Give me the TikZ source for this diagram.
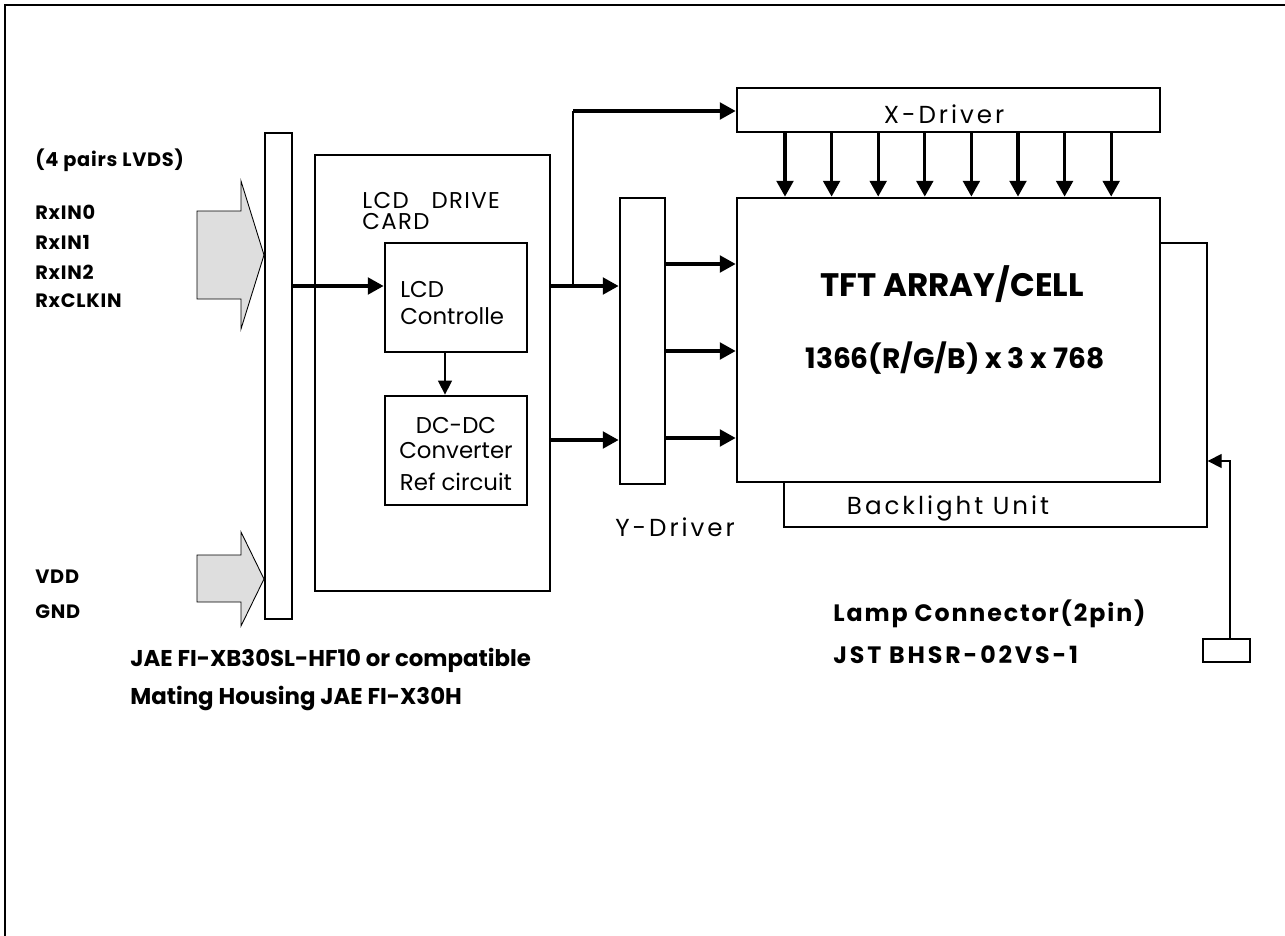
\documentclass[tikz,border=0pt]{standalone}
\usepackage{fontspec}
\setmainfont{Poppins}
\usetikzlibrary{arrows.meta}
\tikzset{
  box/.style={draw, line width=1.6pt, fill=white, inner sep=0pt},
  thinbox/.style={draw, line width=0.8pt, fill=white, inner sep=0pt},
  sig/.style={line width=1.8pt, -{Triangle[length=9pt,width=9.5pt]}},
  thinsig/.style={line width=0.8pt, -{Triangle[length=8pt,width=8pt]}},
  fat/.style={draw, line width=0.5pt, fill=black!13},
  pin/.style={font=\bfseries\fontsize{11}{13}\selectfont\addfontfeatures{LetterSpace=4}, anchor=west, inner sep=0pt},
  note/.style={font=\bfseries\fontsize{13}{15}\selectfont, anchor=west, inner sep=0pt},
  plain/.style={font=\fontsize{13}{13}\selectfont, inner sep=0pt, align=left},
  wide/.style={font=\fontsize{14}{14}\selectfont\addfontfeatures{LetterSpace=12}, inner sep=0pt}
}
\begin{document}
\begin{tikzpicture}[x=0.02cm, y=-0.02cm]
  \useasboundingbox (0,0) rectangle (1285,936);
  % frame (only top and left edges show)
  \draw[line width=1.3pt] (5,936) -- (5,5) -- (1285,5);

  % input connector and block arrows
  \node[thinbox, minimum width=0.54cm, minimum height=9.72cm] (conn) at (278.5,376) {};
  \filldraw[fat] (197,211) -- (241,211) -- (241,181) -- (264,255) -- (241,329)
    -- (241,299) -- (197,299) -- cycle;
  \filldraw[fat] (197,555) -- (241,555) -- (241,532) -- (264,579) -- (241,626)
    -- (241,602) -- (197,602) -- cycle;
  \node[pin] (lvds) at (35,160) {(4 pairs LVDS)};
  \node[pin] (rx0) at (35,212) {RxIN0};
  \node[pin] (rx1) at (35,242) {RxIN1};
  \node[pin] (rx2) at (35,272) {RxIN2};
  \node[pin] (rxclk) at (35,301) {RxCLKIN};
  \node[pin] (vdd) at (35,577) {VDD};
  \node[pin] (gnd) at (35,612) {GND};

  % drive card
  \node[box, minimum width=4.7cm, minimum height=8.72cm] (card) at (432.5,373) {};
  \node[plain, anchor=west, font=\fontsize{13}{12}\selectfont\addfontfeatures{LetterSpace=6}] (cardtxt) at (362,211) {LCD\quad DRIVE\\CARD};
  \node[box, minimum width=2.84cm, minimum height=2.18cm] (ctrl) at (456,297.5) {};
  \node[plain, anchor=west] (ctrltxt) at (400,303) {LCD\\[2pt]Controlle};
  \node[box, minimum width=2.84cm, minimum height=2.18cm] (dcdc) at (456,450.5) {};
  \node[plain, align=center] (dcdctxt) at (456,454) {DC-DC\\[1pt]Converter\\[5pt]Ref circuit};
  \draw[sig] (conn.east |- 0,286) -- (ctrl.west |- 0,286);
  \draw[thinsig] (ctrl.south -| 445,0) -- (dcdc.north -| 445,0);

  % drivers and panel
  \node[box, minimum width=0.9cm, minimum height=5.72cm] (ydrv) at (642.5,341) {};
  \node[wide, anchor=west] (ytxt) at (615,527) {Y-Driver};
  \node[box, minimum width=8.46cm, minimum height=0.88cm] (xdrv) at (948.5,110) {};
  \node[wide] (xtxt) at (944,114) {X-Driver};
  \node[thinbox, minimum width=8.46cm, minimum height=5.68cm] (blu) at (995.5,385) {};
  \node[wide] (blutxt) at (948,508) {Backlight Unit};
  \node[box, minimum width=8.46cm, minimum height=5.68cm] (tft) at (948.5,340) {};
  \node[font=\bfseries\fontsize{18.5}{20}\selectfont] (tfttxt) at (952,284) {TFT ARRAY/CELL};
  \node[font=\bfseries\fontsize{16}{17}\selectfont] (restxt) at (955,358) {1366(R/G/B) x 3 x 768};

  \draw[sig] (card.east |- 0,286) -- (ydrv.west |- 0,286);
  \draw[sig] (card.east |- 0,440) -- (ydrv.west |- 0,440);
  \draw[line width=0.8pt] (573,286) -- (573,111);
  \draw[sig] (573,111) -- (xdrv.west |- 0,111);
  \foreach \yy in {264,351,438}
    \draw[sig] (ydrv.east |- 0,\yy) -- (tft.west |- 0,\yy);
  \foreach \i in {0,...,7}
    \draw[sig] (xdrv.south -| 785+46.6*\i,0) -- (tft.north -| 785+46.6*\i,0);

  % lamp connector
  \node[thinbox, minimum width=0.94cm, minimum height=0.46cm] (lamp) at (1226.5,650.5) {};
  \draw[thinsig] (lamp.north -| 1230,0) |- (blu.east |- 0,461);

  % notes
  \node[note] (jae) at (130,660) {JAE FI-XB30SL-HF10 or compatible};
  \node[note] (mating) at (130,698) {Mating Housing JAE FI-X30H};
  \node[note, font=\bfseries\fontsize{13.5}{15}\selectfont\addfontfeatures{LetterSpace=8}] (lampnote) at (833,614) {Lamp Connector(2pin)};
  \node[note, font=\bfseries\fontsize{13.5}{15}\selectfont\addfontfeatures{LetterSpace=12}] (jst) at (833,655) {JST BHSR-02VS-1};
\end{tikzpicture}
\end{document}
